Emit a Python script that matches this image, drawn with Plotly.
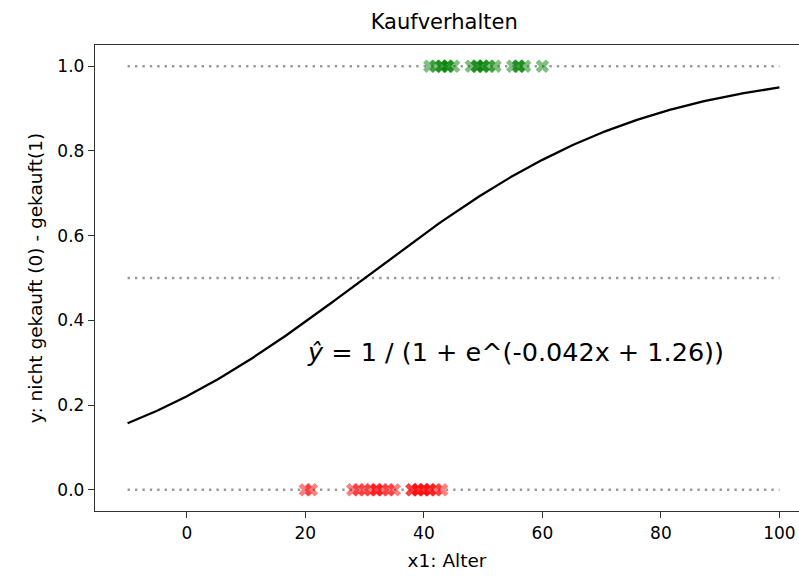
import numpy as np
import plotly.graph_objects as go

# Ages of customers who bought (1) and did not buy (0)
alter_gekauft = [41, 42, 43, 43, 44, 44, 45, 48, 49, 49, 50, 50, 51, 52, 55, 56, 56, 57, 60]
alter_nicht_gekauft = [20, 21, 28, 29, 30, 31, 32, 32, 33, 34, 35, 38, 38, 39, 39, 40, 40, 41, 41, 42, 43]

# Fitted logistic model parameters
b1 = -0.042
b0 = 1.26
x_min, x_max = -10, 100
ref_levels = [0.0, 0.5, 1.0]

xs = np.linspace(x_min, x_max, 300)
ys = 1.0 / (1.0 + np.exp(b1 * xs + b0))

fig = go.Figure()

for lvl in ref_levels:
    fig.add_trace(go.Scatter(
        x=[x_min, x_max], y=[lvl, lvl], mode="lines",
        line=dict(color="#9a9a9a", width=2.4, dash="2.4px,5px"),
        hoverinfo="skip", showlegend=False,
    ))

fig.add_trace(go.Scatter(
    x=alter_gekauft, y=[1] * len(alter_gekauft), mode="markers",
    marker=dict(symbol="x", size=12, color="green", opacity=0.5, line=dict(width=0)),
    showlegend=False,
))
fig.add_trace(go.Scatter(
    x=alter_nicht_gekauft, y=[0] * len(alter_nicht_gekauft), mode="markers",
    marker=dict(symbol="x", size=12, color="red", opacity=0.5, line=dict(width=0)),
    showlegend=False,
))

fig.add_trace(go.Scatter(
    x=xs, y=ys, mode="lines", line=dict(color="black", width=2.3),
    showlegend=False,
))

fig.add_annotation(
    x=20, y=0.285, xref="x", yref="y", xanchor="left", yanchor="bottom",
    text=f"<i>ŷ</i> = 1 / (1 + e^({b1}x + {b0}))", showarrow=False,
    font=dict(family="DejaVu Sans", size=25.5, color="black"),
)

axis_font = dict(family="DejaVu Sans", size=17, color="black")
label_font = dict(family="DejaVu Sans", size=18.5, color="black")
fig.update_layout(
    width=799, height=576,
    margin=dict(l=95, r=0, t=45, b=65),
    plot_bgcolor="white", paper_bgcolor="white",
    title=dict(text="Kaufverhalten", x=0.556, xanchor="center", y=0.962, yanchor="middle",
               font=dict(family="DejaVu Sans", size=21, color="black")),
    xaxis=dict(
        range=[-15.5, 103.3], tickvals=[0, 20, 40, 60, 80, 100],
        showgrid=False, zeroline=False, showline=True, mirror=True,
        linecolor="#333", linewidth=1.4, ticks="outside", ticklen=6, tickcolor="#333",
        tickfont=axis_font,
        title=dict(text="x1: Alter", font=label_font, standoff=12),
    ),
    yaxis=dict(
        range=[-0.05, 1.05], tickvals=[0, 0.2, 0.4, 0.6, 0.8, 1.0], tickformat=".1f",
        showgrid=False, zeroline=False, showline=True,
        linecolor="#333", linewidth=1.4, ticks="outside", ticklen=6, tickcolor="#333",
        tickfont=axis_font,
        title=dict(text="y: nicht gekauft (0) - gekauft(1)", font=label_font, standoff=9),
    ),
)

fig.write_html("out.html")
